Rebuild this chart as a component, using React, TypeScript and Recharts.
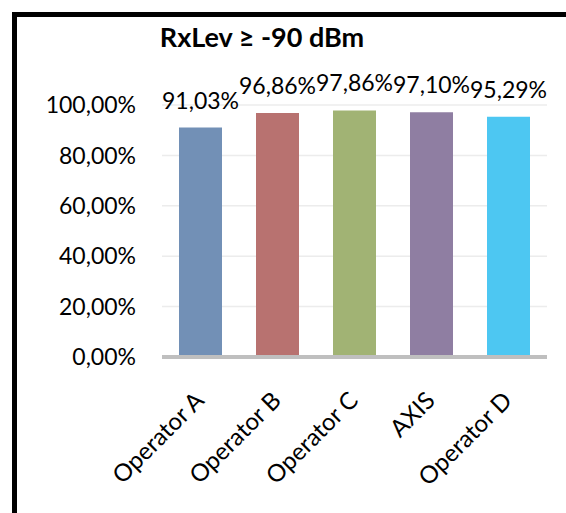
import { BarChart, Bar, XAxis, YAxis, CartesianGrid, LabelList, Cell } from 'recharts'

const operators = ['Operator A', 'Operator B', 'Operator C', 'AXIS', 'Operator D']
const coverage = [91.03, 96.86, 97.86, 97.1, 95.29]
const barColors = ['#7290b6', '#b87270', '#a1b374', '#8f7ea2', '#4dc7f2']
const yTicks = [0, 20, 40, 60, 80, 100]

const data = operators.map((name, i) => ({ name, value: coverage[i] }))

const FONT = 'Lato, "Open Sans", sans-serif'

const pct = (v: number) => v.toFixed(2).replace('.', ',') + '%'

function AngledTick({ x, y, payload }: { x?: number; y?: number; payload?: { value: string } }) {
  return (
    <g transform={`translate(${(x ?? 0) + 5},${(y ?? 0) + 37}) rotate(-45)`}>
      <text x={0} y={0} textAnchor="end" fill="#000" fontSize={24} fontFamily={FONT}>
        {payload?.value}
      </text>
    </g>
  )
}

export default function App() {
  return (
    <div style={{ position: 'absolute', left: 0, top: 0, width: 566, height: 513, overflow: 'hidden', background: '#fff' }}>
      <div
        style={{
          position: 'absolute',
          left: 12,
          top: 12,
          width: 600,
          height: 560,
          border: '5px solid #000',
          boxSizing: 'border-box',
        }}
      />
      <svg width={566} height={513} style={{ position: 'absolute', left: 0, top: 0 }}>
        <text x={262} y={47} textAnchor="middle" fontFamily={FONT} fontWeight="bold" fontSize={27} fill="#000">
          RxLev ≥ -90 dBm
        </text>
      </svg>
      <div style={{ position: 'absolute', left: 0, top: 0 }}>
        <BarChart width={566} height={513} data={data} margin={{ top: 105, right: 19, left: 0, bottom: 0 }}>
          <CartesianGrid vertical={false} stroke="#ececec" strokeWidth={1.5} />
          <XAxis
            dataKey="name"
            height={156}
            axisLine={{ stroke: '#bfbfbf', strokeWidth: 4 }}
            tickLine={false}
            interval={0}
            tick={<AngledTick />}
          />
          <YAxis
            width={162}
            domain={[0, 100]}
            ticks={yTicks}
            axisLine={false}
            tickLine={false}
            tickMargin={20}
            tickFormatter={pct}
            tick={{ fontSize: 23, fill: '#000', fontFamily: FONT }}
          />
          <Bar dataKey="value" barSize={43} isAnimationActive={false}>
            {data.map((d, i) => (
              <Cell key={d.name} fill={barColors[i]} />
            ))}
            <LabelList
              dataKey="value"
              position="top"
              offset={19}
              formatter={(v: number) => pct(v)}
              fill="#000"
              fontSize={23}
              fontFamily={FONT}
            />
          </Bar>
        </BarChart>
      </div>
    </div>
  )
}
